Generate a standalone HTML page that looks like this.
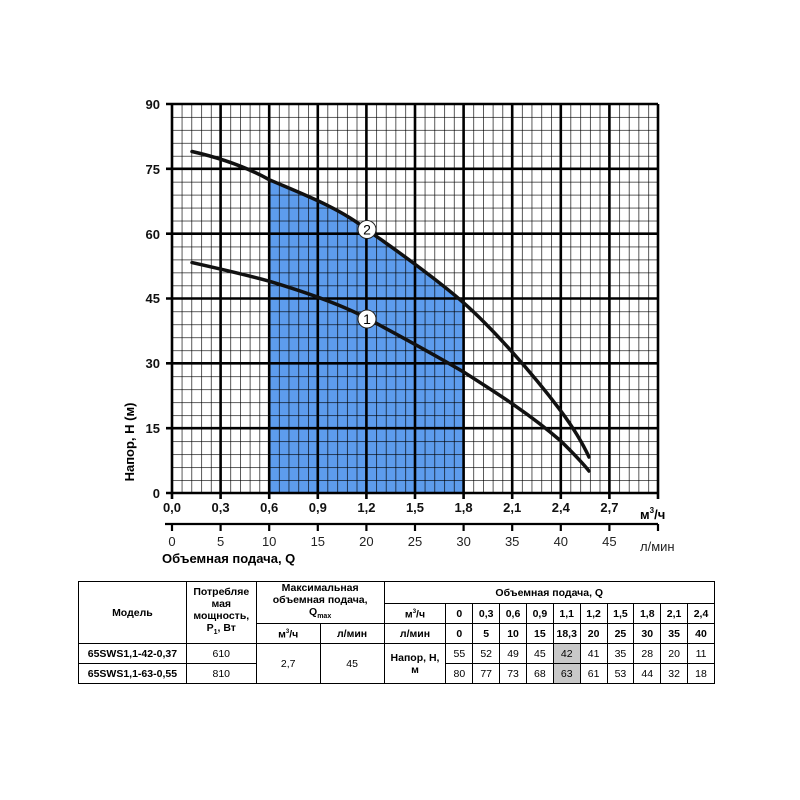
<!DOCTYPE html>
<html><head><meta charset="utf-8"><style>
body{margin:0;background:#fff;width:800px;height:800px;overflow:hidden;position:relative;font-family:"Liberation Sans",Arial,sans-serif}
table{position:absolute;left:78px;top:581px;border-collapse:collapse;width:637px;font-size:10.5px;}
td{border:1px solid #000;text-align:center;padding:0;line-height:12px}
.b{font-weight:bold}
</style></head><body>
<svg width="800" height="580" style="position:absolute;left:0;top:0" font-family="Liberation Sans, Arial, sans-serif">
<defs>
<pattern id="mg" x="172" y="104" width="9.72" height="12.967" patternUnits="userSpaceOnUse">
<path d="M0 0V12.967M0 0H9.72" stroke="#000" stroke-width="1.3" fill="none"/>
</pattern>
</defs>
<path d="M269.2 493 V179.7 C300 193 340 208 366.4 229.4 C395 249 440 282 463.6 302.8 V493 Z" fill="#5d9ced"/>
<rect x="172" y="104" width="486" height="389" fill="url(#mg)"/>
<g stroke="#000" stroke-width="2.6">
<path d="M172 104V493M220.6 104V493M269.2 104V493M317.8 104V493M366.4 104V493M415 104V493M463.6 104V493M512.2 104V493M560.8 104V493M609.4 104V493M658 104V493"/>
<path d="M166 104H658M166 168.8H658M166 233.7H658M166 298.5H658M166 363.3H658M166 428.2H658M166 493H658"/>
<path d="M172 493V499M220.6 493V499M269.2 493V499M317.8 493V499M366.4 493V499M415 493V499M463.6 493V499M512.2 493V499M560.8 493V499M609.4 493V499M658 493V499"/>
<path d="M165 524H658M172 524V531M220.6 524V531M269.2 524V531M317.8 524V531M366.4 524V531M415 524V531M463.6 524V531M512.2 524V531M560.8 524V531M609.4 524V531M658 524V531" stroke-width="2.2"/>
</g>
<g fill="none" stroke="#111" stroke-width="3.5" stroke-linecap="round" stroke-linejoin="round">
<path d="M192 151.5 C225 159 250 169 269.2 179.7 C300 193 340 208 366.4 229.4 C395 249 440 282 463.6 302.8 C490 326 530 370 560.8 410.9 C575 430 583 444 589 457"/>
<path d="M192 262.6 C225 270 250 276 269.2 281.2 C305 292 340 304 366.4 318 C400 336 440 358 463.6 372 C495 392 530 414 560.8 441 C572 452 581 461 589 471"/>
</g>
<circle cx="367" cy="229.5" r="9" fill="#fff" stroke="#222" stroke-width="1"/>
<text x="367" y="234.5" font-size="14" text-anchor="middle">2</text>
<circle cx="367" cy="319" r="9" fill="#fff" stroke="#222" stroke-width="1"/>
<text x="367" y="324" font-size="14" text-anchor="middle">1</text>
<g font-size="13" font-weight="bold" text-anchor="end" fill="#111">
<text x="160" y="109">90</text><text x="160" y="174">75</text><text x="160" y="239">60</text><text x="160" y="303">45</text><text x="160" y="368">30</text><text x="160" y="433">15</text><text x="160" y="498">0</text>
</g>
<g font-size="13" font-weight="bold" text-anchor="middle" fill="#111">
<text x="172" y="512">0,0</text><text x="220.6" y="512">0,3</text><text x="269.2" y="512">0,6</text><text x="317.8" y="512">0,9</text><text x="366.4" y="512">1,2</text><text x="415" y="512">1,5</text><text x="463.6" y="512">1,8</text><text x="512.2" y="512">2,1</text><text x="560.8" y="512">2,4</text><text x="609.4" y="512">2,7</text>
</g>
<text x="640" y="519" font-size="13" font-weight="bold">м<tspan dy="-6" font-size="8">3</tspan><tspan dy="6">/ч</tspan></text>
<g font-size="13" text-anchor="middle" fill="#222">
<text x="172" y="546">0</text><text x="220.6" y="546">5</text><text x="269.2" y="546">10</text><text x="317.8" y="546">15</text><text x="366.4" y="546">20</text><text x="415" y="546">25</text><text x="463.6" y="546">30</text><text x="512.2" y="546">35</text><text x="560.8" y="546">40</text><text x="609.4" y="546">45</text>
</g>
<text x="640" y="551" font-size="13" fill="#222">л/мин</text>
<text x="162" y="563" font-size="13" font-weight="bold">Объемная подача, Q</text>
<text transform="translate(134,442) rotate(-90)" font-size="13" font-weight="bold" text-anchor="middle">Напор, Н (м)</text>
</svg>
<table>
<colgroup><col style="width:108px"><col style="width:70px"><col style="width:64px"><col style="width:64px"><col style="width:62px"><col span="10" style="width:26.9px"></colgroup>
<tr style="height:22px"><td rowspan="3" class="b">Модель</td><td rowspan="3" class="b">Потребляе<br>мая<br>мощность,<br>P<sub style="font-size:7px">1</sub>, Вт</td><td colspan="2" rowspan="2" class="b">Максимальная<br>объемная подача,<br>Q<sub style="font-size:7px">max</sub></td><td colspan="11" class="b">Объемная подача, Q</td></tr>
<tr style="height:20px"><td class="b">м<sup style="font-size:6px">3</sup>/ч</td><td class="b">0</td><td class="b">0,3</td><td class="b">0,6</td><td class="b">0,9</td><td class="b">1,1</td><td class="b">1,2</td><td class="b">1,5</td><td class="b">1,8</td><td class="b">2,1</td><td class="b">2,4</td></tr>
<tr style="height:20px"><td class="b">м<sup style="font-size:6px">3</sup>/ч</td><td class="b">л/мин</td><td class="b">л/мин</td><td class="b">0</td><td class="b">5</td><td class="b">10</td><td class="b">15</td><td class="b">18,3</td><td class="b">20</td><td class="b">25</td><td class="b">30</td><td class="b">35</td><td class="b">40</td></tr>
<tr style="height:20px"><td class="b">65SWS1,1-42-0,37</td><td>610</td><td rowspan="2">2,7</td><td rowspan="2">45</td><td rowspan="2" class="b">Напор, Н,<br>м</td><td>55</td><td>52</td><td>49</td><td>45</td><td style="background:#c8c8c8">42</td><td>41</td><td>35</td><td>28</td><td>20</td><td>11</td></tr>
<tr style="height:20px"><td class="b">65SWS1,1-63-0,55</td><td>810</td><td>80</td><td>77</td><td>73</td><td>68</td><td style="background:#c8c8c8">63</td><td>61</td><td>53</td><td>44</td><td>32</td><td>18</td></tr>
</table>
</body></html>
